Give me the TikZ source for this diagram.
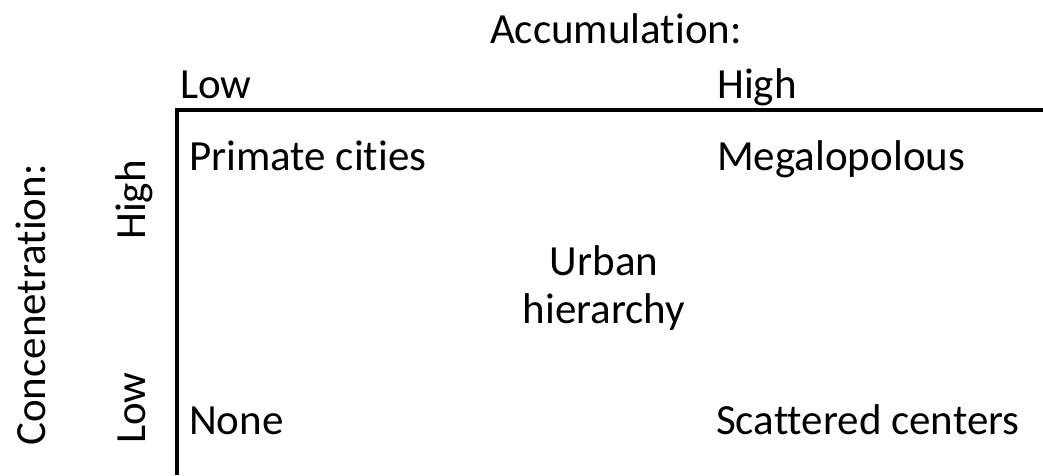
\documentclass[tikz,border=0pt]{standalone}
\usepackage{fontspec}
\setmainfont[Ligatures=NoCommon]{Carlito}
\begin{document}
\begin{tikzpicture}[
  x=1pt,y=-1pt,
  lbl/.style={inner sep=0pt,anchor=base west,font=\fontsize{43}{48}\selectfont},
  head/.style={inner sep=0pt,anchor=base,font=\fontsize{43}{48}\selectfont},
  side/.style={head,rotate=90},
  axis/.style={line width=3.5pt}
]
  \useasboundingbox (0,0) rectangle (1043,475);

  \coordinate (corner) at (177,110);
  \coordinate (right)  at (1043,110);
  \coordinate (bottom) at (177,475);

  \node[head] (accum) at (616,43) {Accumulation:};
  \node[lbl]  (alow)  at (180,98) {Low};
  \node[lbl]  (ahigh) at (717,98) {High};

  \node[side] (conc)  at (45,305)  {Concenetration:};
  \node[side] (chigh) at (145,200) {High};
  \node[side] (clow)  at (145,408) {Low};

  \node[lbl] (primate) at (189,170) {Primate cities};
  \node[lbl] (mega)    at (717,170) {Megalopolous};
  \node[head,align=center] (urban) at (604,323) {Urban\\hierarchy};
  \node[lbl] (none)    at (189,434) {None};
  \node[lbl] (scatter) at (716,434) {Scattered centers};

  \draw[axis] (right) -- (corner) -- (bottom);
\end{tikzpicture}
\end{document}
